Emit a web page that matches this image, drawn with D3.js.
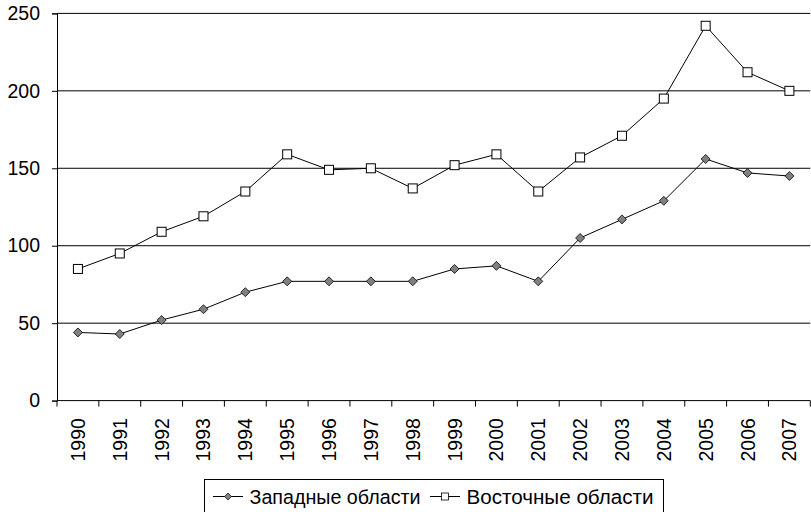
<!DOCTYPE html>
<html>
<head>
<meta charset="utf-8">
<script src="https://cdn.jsdelivr.net/npm/d3@7"></script>
<style>
  body { margin: 0; background: #fff; }
  svg { display: block; font-family: "Liberation Sans", Arial, sans-serif; }
</style>
</head>
<body>
<div id="chart"></div>
<script>
// data
const years = ["1990", "1991", "1992", "1993", "1994", "1995", "1996", "1997", "1998",
               "1999", "2000", "2001", "2002", "2003", "2004", "2005", "2006", "2007"];
const western = [44, 43, 52, 59, 70, 77, 77, 77, 77, 85, 87, 77, 105, 117, 129, 156, 147, 145];
const eastern = [85, 95, 109, 119, 135, 159, 149, 150, 137, 152, 159, 135, 157, 171, 195, 242, 212, 200];
const yTicks = [0, 50, 100, 150, 200, 250];
const seriesNames = ["Западные области", "Восточные области"];

const width = 811, height = 512;
const plotLeft = 57, plotRight = 810.3, plotTop = 13.4, plotBottom = 400.6;

const svg = d3.select("#chart").append("svg")
    .attr("width", width)
    .attr("height", height);

const x = d3.scaleBand()
    .domain(years)
    .range([plotLeft, plotRight]);

const y = d3.scaleLinear()
    .domain([0, 250])
    .range([plotBottom, plotTop]);

const cx = d => x(d) + x.bandwidth() / 2;

// grid lines
svg.append("g")
    .selectAll("line")
    .data(yTicks.filter(t => t > 0))
    .enter().append("line")
    .attr("x1", plotLeft).attr("x2", plotRight)
    .attr("y1", d => y(d)).attr("y2", d => y(d))
    .attr("stroke", "#000")
    .attr("stroke-width", 1);

// y axis
const yAxis = svg.append("g")
    .attr("transform", `translate(${plotLeft},0)`)
    .call(d3.axisLeft(y).tickValues(yTicks).tickSize(5).tickPadding(12));
yAxis.select(".domain").attr("stroke", "#000");
yAxis.selectAll("text")
    .style("font-size", "19.5px")
    .attr("fill", "#000");

// x axis, ticks between categories
const xAxis = svg.append("g")
    .attr("transform", `translate(0,${plotBottom})`);
xAxis.append("line")
    .attr("x1", plotLeft).attr("x2", plotRight)
    .attr("stroke", "#000");
xAxis.selectAll("line.tick")
    .data(years.concat(["end"]))
    .enter().append("line")
    .attr("class", "tick")
    .attr("x1", (d, i) => i < years.length ? x(d) : plotRight)
    .attr("x2", (d, i) => i < years.length ? x(d) : plotRight)
    .attr("y1", 0).attr("y2", 6)
    .attr("stroke", "#000");
xAxis.selectAll("text")
    .data(years)
    .enter().append("text")
    .attr("transform", d => `translate(${cx(d) + 7},17.5) rotate(-90)`)
    .attr("text-anchor", "end")
    .style("font-size", "19.5px")
    .text(d => d);

// lines
const line = d3.line()
    .x((d, i) => cx(years[i]))
    .y(d => y(d));

svg.append("path")
    .datum(western)
    .attr("d", line)
    .attr("fill", "none")
    .attr("stroke", "#000")
    .attr("stroke-width", 1);

svg.append("path")
    .datum(eastern)
    .attr("d", line)
    .attr("fill", "none")
    .attr("stroke", "#000")
    .attr("stroke-width", 1);

const diamond = s => `M0,${-s}L${s},0L0,${s}L${-s},0Z`;

svg.append("g")
    .selectAll("path")
    .data(western)
    .enter().append("path")
    .attr("transform", (d, i) => `translate(${cx(years[i])},${y(d)})`)
    .attr("d", diamond(4.5))
    .attr("fill", "#808080")
    .attr("stroke", "#000")
    .attr("stroke-width", 0.8);

svg.append("g")
    .selectAll("rect")
    .data(eastern)
    .enter().append("rect")
    .attr("x", (d, i) => cx(years[i]) - 4.5)
    .attr("y", d => y(d) - 4.5)
    .attr("width", 9).attr("height", 9)
    .attr("fill", "#fff")
    .attr("stroke", "#000")
    .attr("stroke-width", 1);

// legend
const legend = svg.append("g");
legend.append("rect")
    .attr("x", 204.5).attr("y", 479.5)
    .attr("width", 459).attr("height", 33)
    .attr("fill", "#fff")
    .attr("stroke", "#000");

const items = [
    { name: seriesNames[0], x0: 213, tx: 249.5, tw: 171, marker: "diamond" },
    { name: seriesNames[1], x0: 430, tx: 466.5, tw: 187, marker: "square" }
];
const lg = legend.selectAll("g.item")
    .data(items)
    .enter().append("g")
    .attr("class", "item");
lg.append("line")
    .attr("x1", d => d.x0).attr("x2", d => d.x0 + 30)
    .attr("y1", 496.5).attr("y2", 496.5)
    .attr("stroke", "#000");
lg.each(function(d) {
    const g = d3.select(this);
    const mx = d.x0 + 15;
    if (d.marker === "diamond") {
        g.append("path")
            .attr("transform", `translate(${mx},496.5)`)
            .attr("d", diamond(3.5))
            .attr("fill", "#808080")
            .attr("stroke", "#000")
            .attr("stroke-width", 0.7);
    } else {
        g.append("rect")
            .attr("x", mx - 3.5).attr("y", 493)
            .attr("width", 7).attr("height", 7)
            .attr("fill", "#fff")
            .attr("stroke", "#000")
            .attr("stroke-width", 0.8);
    }
});
lg.append("text")
    .attr("x", d => d.tx)
    .attr("y", 504)
    .attr("textLength", d => d.tw)
    .attr("lengthAdjust", "spacingAndGlyphs")
    .style("font-size", "20.5px")
    .text(d => d.name);
</script>
</body>
</html>
